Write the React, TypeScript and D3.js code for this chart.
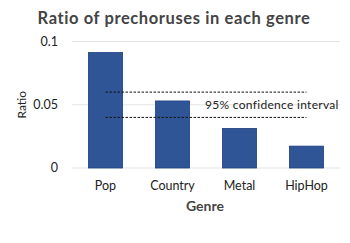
import React from "react";
import * as d3 from "d3";

const genres = ["Pop", "Country", "Metal", "HipHop"];
const ratios = [0.0913, 0.053, 0.0313, 0.0173];
const yTicks = [0, 0.05, 0.1];
const ciBounds = [0.06, 0.04];
const ciLabel = "95% confidence  interval";

const W = 350, H = 243;
const left = 72, right = 340, top = 41.5, bottom = 168;
const FONT = "Lato, 'DejaVu Sans', sans-serif";

export default function App() {
  const x = d3.scaleBand<string>().domain(genres).range([left, right]).paddingInner(0.49).paddingOuter(0.245);
  const y = d3.scaleLinear().domain([0, 0.1]).range([bottom, top]);
  const fmt = (v: number) => (v === 0 ? "0" : String(v));
  const xStart = x(genres[0])! + x.bandwidth() / 2;
  const xEnd = x(genres[genres.length - 1])! + x.bandwidth() / 2;
  return (
    <svg width={W} height={H} style={{ position: "absolute", left: 0, top: 0, background: "#fff" }} fontFamily={FONT}>
      <text x={174} y={23.5} textAnchor="middle" fontSize={16.5} fontWeight="bold" fill="#444" letterSpacing={0.6}>
        Ratio of prechoruses in each genre
      </text>
      {yTicks.map((t) => (
        <g key={t}>
          <line x1={left} x2={right} y1={y(t)} y2={y(t)} stroke="#e4e4e4" strokeWidth={1.2} />
          <text x={58} y={y(t)} dy="0.35em" textAnchor="end" fontSize={12.5} fill="#222">
            {fmt(t)}
          </text>
        </g>
      ))}
      {genres.map((g, i) => (
        <rect key={g} x={x(g)!} y={y(ratios[i])} width={x.bandwidth()} height={y(0) - y(ratios[i])}
          fill="#2f5597" stroke="#1f3f7f" strokeWidth={0.8} />
      ))}
      {ciBounds.map((v) => (
        <line key={v} x1={xStart} x2={xEnd} y1={y(v)} y2={y(v)} stroke="#111" strokeWidth={1} strokeDasharray="2.5,1.5" />
      ))}
      <text x={205} y={y(0.05)} dy="0.35em" fontSize={12} fill="#222" letterSpacing={0.3}>{ciLabel}</text>
      {genres.map((g) => (
        <text key={g} x={x(g)! + x.bandwidth() / 2} y={190} textAnchor="middle" fontSize={12.5} fill="#222">
          {g}
        </text>
      ))}
      <text x={205} y={211} textAnchor="middle" fontSize={14} fontWeight="bold" fill="#444">Genre</text>
      <text transform={`translate(26,${(top + bottom) / 2}) rotate(-90)`} textAnchor="middle" fontSize={12} fill="#222">
        Ratio
      </text>
    </svg>
  );
}
